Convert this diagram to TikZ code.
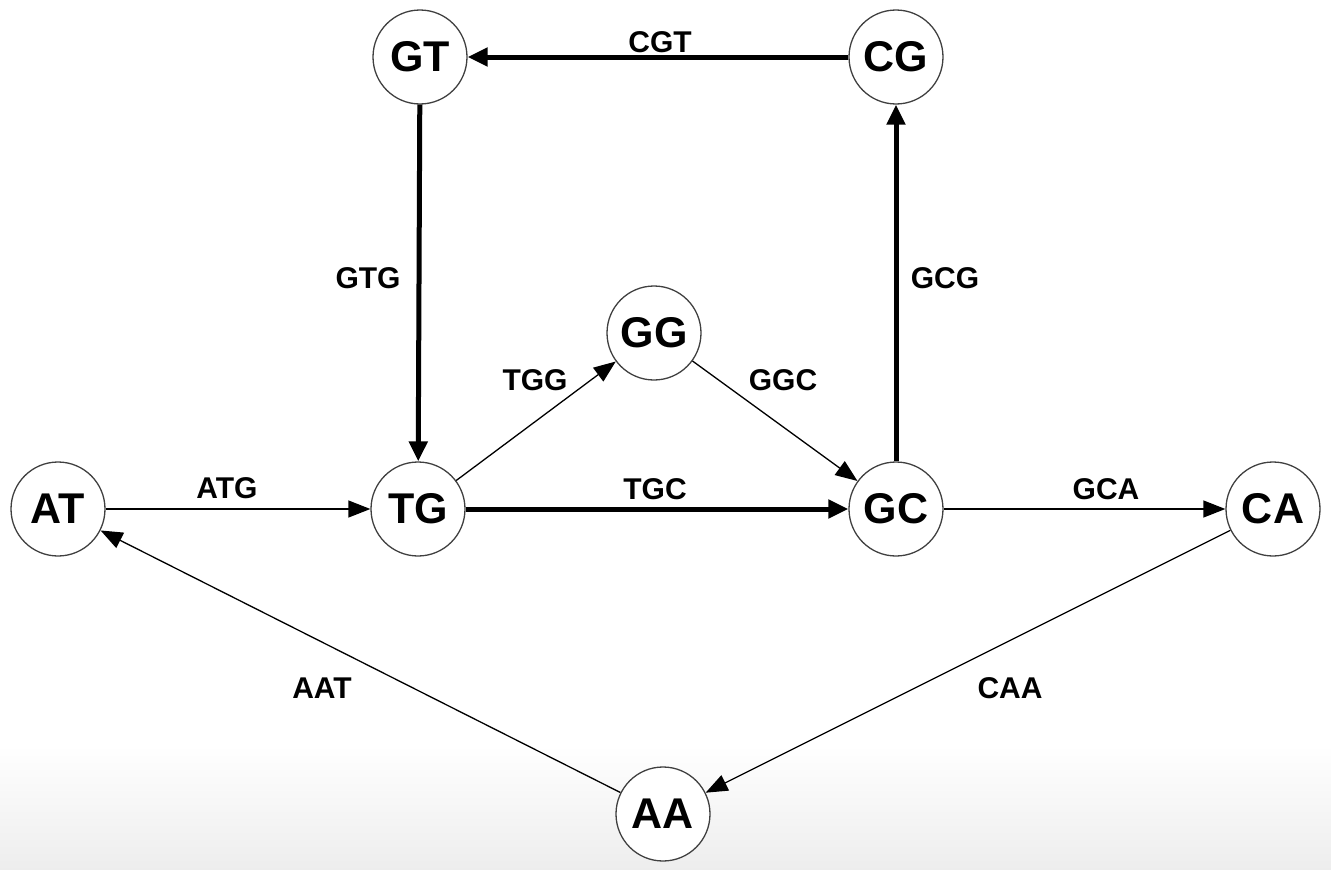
\documentclass[tikz,border=0pt]{standalone}
\usepackage{fontspec}
\setmainfont{Liberation Sans}
\usetikzlibrary{arrows.meta}
\begin{document}
\begin{tikzpicture}[x=1pt,y=-1pt,
  state/.style={circle,draw=black!75,line width=1.3pt,fill=white,minimum size=94pt,inner sep=0pt,font=\fontsize{43}{43}\selectfont\bfseries},
  thin edge/.style={line width=1.3pt,-{Triangle[length=22pt,width=17pt]}},
  thick edge/.style={line width=5pt,-{Triangle[length=20pt,width=18pt]}},
  lbl/.style={font=\fontsize{30}{30}\selectfont\bfseries,inner sep=0pt}]
\useasboundingbox (0,0) rectangle (1331,870);
\shade[top color=white,bottom color=black!7] (0,745) rectangle (1331,870);
\node[state] (GT) at (420,57) {GT};
\node[state] (CG) at (896,57) {CG};
\node[state] (GG) at (654,333) {GG};
\node[state] (AT) at (58,509) {AT};
\node[state] (TG) at (418,509) {TG};
\node[state] (GC) at (896,509) {GC};
\node[state] (CA) at (1273,509) {CA};
\node[state] (AA) at (663,814) {AA};
\draw[thick edge] (CG) -- (GT);
\draw[thick edge] (GT) -- (TG);
\draw[thin edge] (TG) -- (GG);
\draw[thin edge] (GG) -- (GC);
\draw[thick edge] (TG) -- (GC);
\draw[thick edge] (GC) -- (CG);
\draw[thin edge] (AT) -- (TG);
\draw[thin edge] (GC) -- (CA);
\draw[thin edge] (CA) -- (AA);
\draw[thin edge] (AA) -- (AT);
\node[lbl] (lCGT) at (660,42) {CGT};
\node[lbl] (lGTG) at (368,278) {GTG};
\node[lbl] (lTGG) at (535,380) {TGG};
\node[lbl] (lGGC) at (783,380) {GGC};
\node[lbl] (lTGC) at (655,489) {TGC};
\node[lbl] (lGCG) at (945,278) {GCG};
\node[lbl] (lATG) at (227,488) {ATG};
\node[lbl] (lGCA) at (1106,489) {GCA};
\node[lbl] (lCAA) at (1010,688) {CAA};
\node[lbl] (lAAT) at (322,688) {AAT};
\end{tikzpicture}
\end{document}
